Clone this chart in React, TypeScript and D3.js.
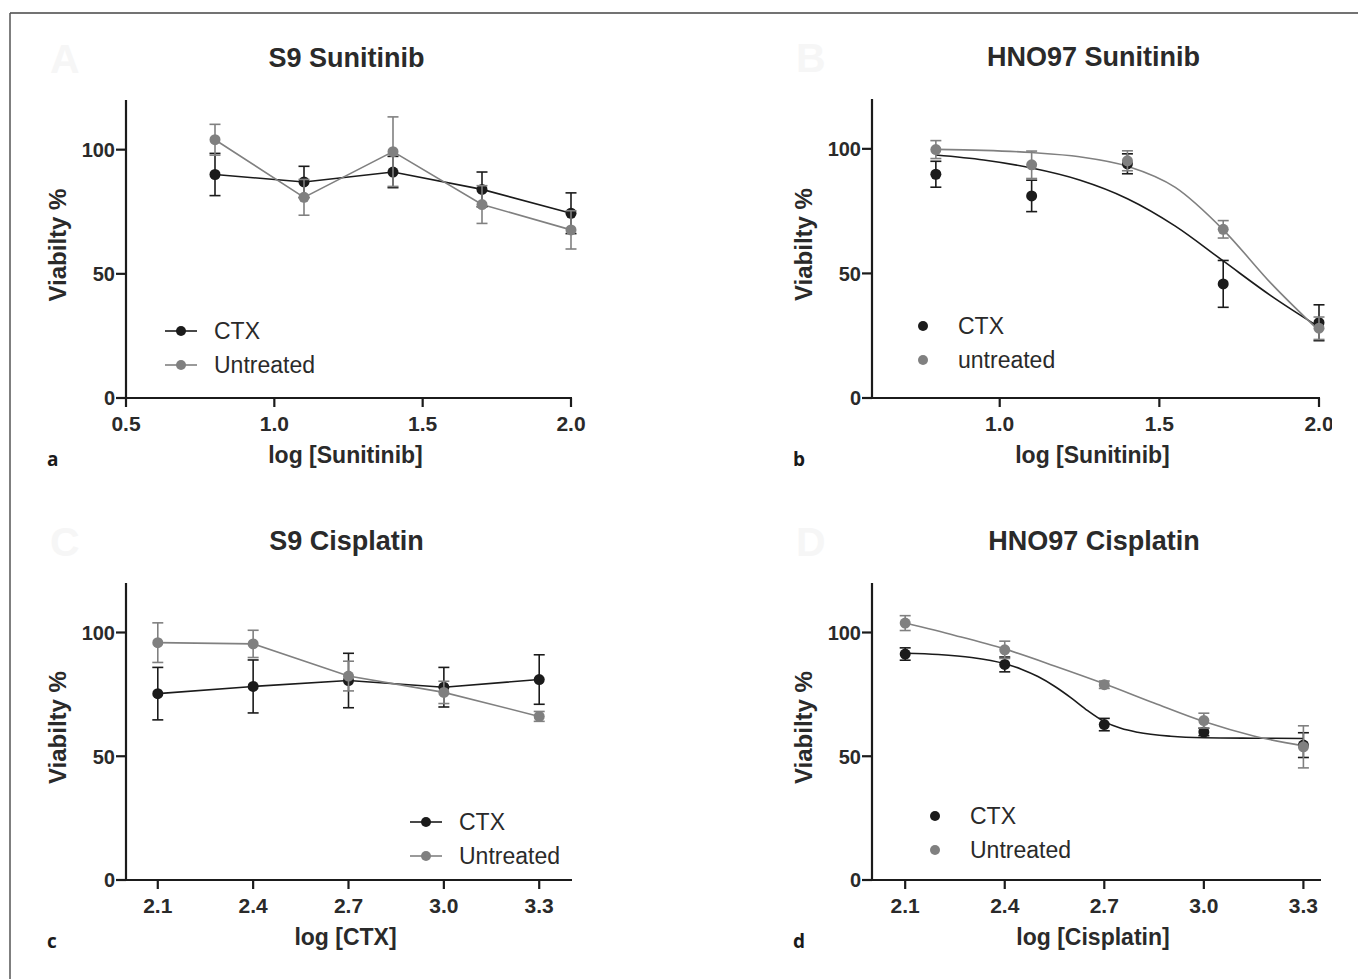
import * as d3 from "d3";

const W = 1358;
const H = 979;

// x values (log concentration)
const sunX = [0.8, 1.1, 1.4, 1.7, 2.0];
const cisX = [2.1, 2.4, 2.7, 3.0, 3.3];

// S9 Sunitinib
const s9SunCtx = [90, 87, 91, 84, 74.4];
const s9SunCtxErr = [8.5, 6.3, 6.3, 7, 8.2];
const s9SunUnt = [104, 80.8, 99.2, 77.9, 67.7];
const s9SunUntErr = [6.2, 7.2, 14, 7.6, 7.7];

// HNO97 Sunitinib
const hnoSunCtx = [89.8, 81.1, 94, 45.8, 30.2];
const hnoSunCtxErr = [5.2, 6.3, 4, 9.4, 7.2];
const hnoSunUnt = [99.7, 93.6, 95.2, 67.7, 28];
const hnoSunUntErr = [3.6, 5.5, 4, 3.5, 4.5];

// S9 Cisplatin
const s9CisCtx = [75.3, 78.2, 80.6, 77.9, 81];
const s9CisCtxErr = [10.6, 10.7, 11, 8, 10];
const s9CisUnt = [95.9, 95.4, 82.4, 75.8, 66.1];
const s9CisUntErr = [8, 5.5, 6, 4.5, 2];

// HNO97 Cisplatin
const hnoCisCtx = [91.3, 87.1, 62.8, 59.8, 54.5];
const hnoCisCtxErr = [2.5, 3, 2.5, 1.5, 5];
const hnoCisUnt = [103.8, 93, 78.9, 64.4, 53.8];
const hnoCisUntErr = [3, 3.5, 1.5, 3, 8.5];

// fitted curves
const hnoSunFitX = [0.8, 0.95, 1.1, 1.25, 1.4, 1.55, 1.7, 1.85, 2.0];
const hnoSunCtxFit = [97.5, 95.5, 92.3, 87.5, 80, 69, 55, 41, 28.5];
const hnoSunUntFit = [99.8, 99.4, 98.5, 96.8, 93, 84.5, 67.5, 46, 27];
const hnoCisCtxFitX = [2.1, 2.2, 2.3, 2.4, 2.45, 2.5, 2.55, 2.6, 2.65, 2.7, 2.75, 2.8, 2.9, 3.0, 3.15, 3.3];
const hnoCisCtxFit = [91.6, 91.1, 89.9, 87.4, 85.2, 82.2, 78.3, 73.6, 68.4, 64.0, 61.3, 59.7, 58.1, 57.5, 57.3, 57.2];
const hnoCisUntFitX = [2.1, 2.25, 2.4, 2.55, 2.7, 2.85, 3.0, 3.15, 3.3];
const hnoCisUntFit = [103.8, 98.8, 93.3, 86.5, 79.3, 71.5, 64, 58.2, 54.2];

const yTicks = [0, 50, 100];
const sunTicksA = [0.5, 1.0, 1.5, 2.0];
const sunTicksB = [1.0, 1.5, 2.0];
const cisTicks = [2.1, 2.4, 2.7, 3.0, 3.3];

const BLACK = "#1b1b1b";
const GREY = "#808080";
const TEXT = "#2a2a2a";
const FONT = "'Liberation Sans', Arial, sans-serif";

const zip = (xs: number[], ys: number[]) => xs.map((x, i) => [x, ys[i]] as [number, number]);

type Series = { name: string; color: string; y: number[]; err: number[]; fit?: [number, number][] };

type PanelCfg = {
  key: string;
  ghost: string;
  letter: string;
  title: string;
  xTitle: string;
  x0: number; x1: number; yTop: number; yBot: number;
  xDomain: [number, number];
  xTicks: number[];
  xs: number[];
  series: Series[];
  connect: boolean;
  legend: { x: number; y: number; line: boolean };
  clipRight?: number;
};

const panels: PanelCfg[] = [
  {
    key: "a", ghost: "A", letter: "a", title: "S9 Sunitinib", xTitle: "log [Sunitinib]",
    x0: 126, x1: 571, yTop: 100, yBot: 398, xDomain: [0.5, 2.0], xTicks: sunTicksA, xs: sunX,
    series: [
      { name: "CTX", color: BLACK, y: s9SunCtx, err: s9SunCtxErr },
      { name: "Untreated", color: GREY, y: s9SunUnt, err: s9SunUntErr },
    ],
    connect: true, legend: { x: 181, y: 331, line: true },
  },
  {
    key: "b", ghost: "B", letter: "b", title: "HNO97 Sunitinib", xTitle: "log [Sunitinib]",
    x0: 872, x1: 1319, yTop: 99, yBot: 398, xDomain: [0.6, 2.0], xTicks: sunTicksB, xs: sunX,
    series: [
      { name: "CTX", color: BLACK, y: hnoSunCtx, err: hnoSunCtxErr, fit: zip(hnoSunFitX, hnoSunCtxFit) },
      { name: "untreated", color: GREY, y: hnoSunUnt, err: hnoSunUntErr, fit: zip(hnoSunFitX, hnoSunUntFit) },
    ],
    connect: false, legend: { x: 923, y: 326, line: false }, clipRight: 1332,
  },
  {
    key: "c", ghost: "C", letter: "c", title: "S9 Cisplatin", xTitle: "log [CTX]",
    x0: 126, x1: 571, yTop: 583, yBot: 880, xDomain: [2.0, 3.4], xTicks: cisTicks, xs: cisX,
    series: [
      { name: "CTX", color: BLACK, y: s9CisCtx, err: s9CisCtxErr },
      { name: "Untreated", color: GREY, y: s9CisUnt, err: s9CisUntErr },
    ],
    connect: true, legend: { x: 426, y: 822, line: true },
  },
  {
    key: "d", ghost: "D", letter: "d", title: "HNO97 Cisplatin", xTitle: "log [Cisplatin]",
    x0: 872, x1: 1320, yTop: 583, yBot: 880, xDomain: [2.0, 3.35], xTicks: cisTicks, xs: cisX,
    series: [
      { name: "CTX", color: BLACK, y: hnoCisCtx, err: hnoCisCtxErr, fit: zip(hnoCisCtxFitX, hnoCisCtxFit) },
      { name: "Untreated", color: GREY, y: hnoCisUnt, err: hnoCisUntErr, fit: zip(hnoCisUntFitX, hnoCisUntFit) },
    ],
    connect: false, legend: { x: 935, y: 816, line: false },
  },
];

const Panel = ({ p }: { p: PanelCfg }) => {
  const xScale = d3.scaleLinear().domain(p.xDomain).range([p.x0, p.x1]);
  const yScale = d3.scaleLinear().domain([0, 120]).range([p.yBot, p.yTop]);
  const line = d3.line<[number, number]>().x((d) => xScale(d[0])).y((d) => yScale(d[1]));
  const smooth = d3
    .line<[number, number]>()
    .x((d) => xScale(d[0]))
    .y((d) => yScale(d[1]))
    .curve(d3.curveMonotoneX);
  const cx = (p.x0 + p.x1) / 2;
  const cy = (p.yTop + p.yBot) / 2;
  const fmt = d3.format(".1f");

  return (
    <g className={`panel-${p.key}`}>
      {p.clipRight && (
        <clipPath id={`clip-${p.key}`}>
          <rect x={0} y={0} width={p.clipRight} height={H} />
        </clipPath>
      )}
      <text x={p.x0 - 76} y={p.yTop - 27} fontFamily={FONT} fontWeight="bold" fontSize={41} fill="#f6f6f6">
        {p.ghost}
      </text>
      <text x={cx - 2} y={p.yTop - 33} textAnchor="middle" fontFamily={FONT} fontWeight="bold" fontSize={27} fill={TEXT}>
        {p.title}
      </text>

      {/* fitted curves / connecting lines */}
      {p.series.map((s) =>
        p.connect ? (
          <path key={`l-${s.name}`} d={line(zip(p.xs, s.y)) || ""} fill="none" stroke={s.color} strokeWidth={1.6} />
        ) : s.fit ? (
          <path key={`f-${s.name}`} d={smooth(s.fit) || ""} fill="none" stroke={s.color} strokeWidth={1.6} />
        ) : null
      )}

      {/* error bars and points */}
      {p.series.map((s) => (
        <g key={`pts-${s.name}`}>
          {p.xs.map((x, i) => {
            const px = xScale(x);
            const hi = yScale(s.y[i] + s.err[i]);
            const lo = yScale(s.y[i] - s.err[i]);
            return (
              <g key={i} stroke={s.color} strokeWidth={1.6}>
                <line x1={px} x2={px} y1={hi} y2={lo} />
                <line x1={px - 5.5} x2={px + 5.5} y1={hi} y2={hi} />
                <line x1={px - 5.5} x2={px + 5.5} y1={lo} y2={lo} />
              </g>
            );
          })}
          {p.xs.map((x, i) => (
            <circle key={`c${i}`} cx={xScale(x)} cy={yScale(s.y[i])} r={5.5} fill={s.color} />
          ))}
        </g>
      ))}

      {/* axes */}
      <g stroke={BLACK} strokeWidth={2.2}>
        <line x1={p.x0} x2={p.x0} y1={p.yTop} y2={p.yBot + 1} />
        <line x1={p.x0 - 1} x2={p.x1 + 1} y1={p.yBot} y2={p.yBot} />
        {yTicks.map((t) => (
          <line key={`yt${t}`} x1={p.x0 - 10} x2={p.x0} y1={yScale(t)} y2={yScale(t)} />
        ))}
        {p.xTicks.map((t) => (
          <line key={`xt${t}`} x1={xScale(t)} x2={xScale(t)} y1={p.yBot} y2={p.yBot + 9} />
        ))}
      </g>
      {yTicks.map((t) => (
        <text key={`yl${t}`} x={p.x0 - 11} y={yScale(t)} dy="0.37em" textAnchor="end" fontFamily={FONT} fontWeight="bold" fontSize={20} fill={TEXT}>
          {t}
        </text>
      ))}
      <g clipPath={p.clipRight ? `url(#clip-${p.key})` : undefined}>
        {p.xTicks.map((t) => (
          <text key={`xl${t}`} x={xScale(t)} y={p.yBot + 33} textAnchor="middle" fontFamily={FONT} fontWeight="bold" fontSize={21} fill={TEXT}>
            {fmt(t)}
          </text>
        ))}
      </g>
      <text x={cx - 3} y={p.yBot + 65} textAnchor="middle" fontFamily={FONT} fontWeight="bold" fontSize={23} fill={TEXT}>
        {p.xTitle}
      </text>
      <text
        transform={`translate(${p.x0 - 60},${cy - 4}) rotate(-90)`}
        textAnchor="middle"
        fontFamily={FONT}
        fontWeight="bold"
        fontSize={24}
        fill={TEXT}
      >
        Viabilty %
      </text>

      {/* legend */}
      {p.series.map((s, i) => {
        const ly = p.legend.y + i * 34;
        return (
          <g key={`lg-${s.name}`}>
            {p.legend.line && (
              <line x1={p.legend.x - 16} x2={p.legend.x + 16} y1={ly} y2={ly} stroke={s.color} strokeWidth={1.6} />
            )}
            <circle cx={p.legend.x} cy={ly} r={5} fill={s.color} />
            <text x={p.legend.x + (p.legend.line ? 33 : 35)} y={ly} dy="0.36em" fontFamily={FONT} fontSize={23} fill={TEXT}>
              {s.name}
            </text>
          </g>
        );
      })}

      <text x={p.x0 - 79} y={p.yBot + 68} fontFamily="'Open Sans', sans-serif" fontWeight="bold" fontSize={19} fill="#1a1a1a">
        {p.letter}
      </text>
    </g>
  );
};

export default function App() {
  return (
    <svg
      width={W}
      height={H}
      viewBox={`0 0 ${W} ${H}`}
      style={{ position: "absolute", left: 0, top: 0, background: "#fff" }}
    >
      <rect x={0} y={0} width={W} height={H} fill="#fff" />
      <line x1={10} x2={W} y1={13} y2={13} stroke="#444" strokeWidth={1.5} />
      <line x1={10} x2={10} y1={13} y2={H} stroke="#555" strokeWidth={1.5} />
      {panels.map((p) => (
        <Panel key={p.key} p={p} />
      ))}
    </svg>
  );
}
